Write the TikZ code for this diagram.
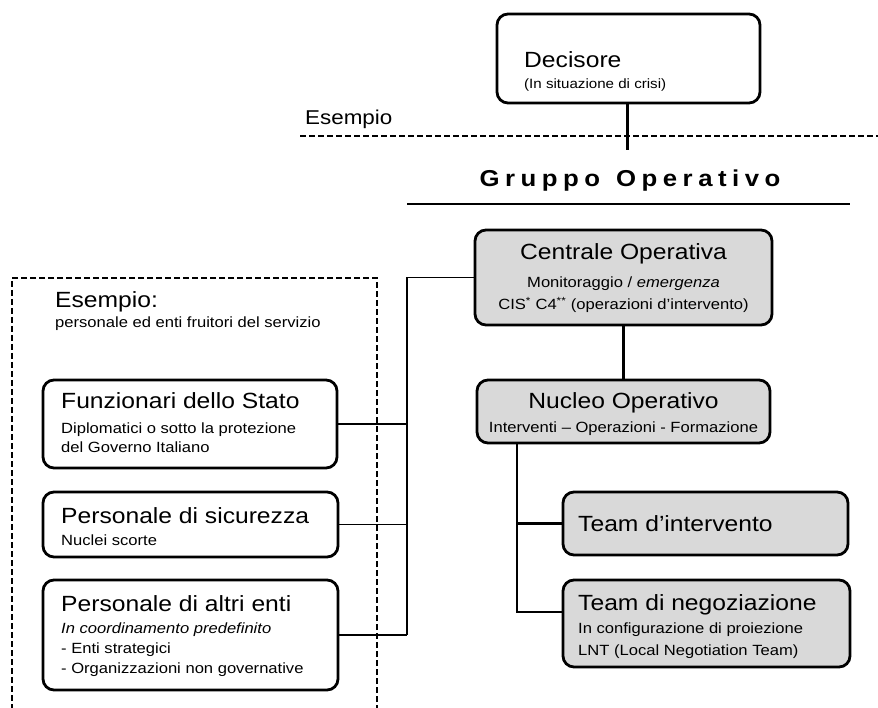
\documentclass[tikz,border=0pt]{standalone}
\usepackage{fontspec}
\setmainfont[FakeStretch=1.12]{Liberation Sans}
\newcommand\lsp{\kern 5.5pt}
\begin{document}
\begin{tikzpicture}[x=1pt,y=-1pt,
  obox/.style={draw, line width=2.8pt, rounded corners=11pt, inner sep=0pt},
  gbox/.style={obox, fill=black!15},
  ttl/.style={font=\fontsize{22}{25}\selectfont, anchor=base west, inner sep=0pt},
  sub/.style={font=\fontsize{14.8}{17}\selectfont, anchor=base west, inner sep=0pt},
  ttlc/.style={ttl, anchor=base},
  subc/.style={sub, anchor=base},
  thickc/.style={line width=2.8pt},
  thinc/.style={line width=1.1pt},
  dashc/.style={line width=1.1pt, dash pattern=on 6pt off 3pt}]

\clip (0,0) rectangle (878,708);
\fill[white] (0,0) rectangle (878,708);

% ---- top part
\node[obox, minimum width=263pt, minimum height=89pt] (dec) at (628.5,58.5) {};
\node[ttl] (decT) at (524,68) {Decisore};
\node[sub, font=\fontsize{13.5}{16}\selectfont] (decS) at (524,89) {(In situazione di crisi)};

\node[ttl, font=\fontsize{20}{23}\selectfont] (esT) at (305,125) {Esempio};
\draw[dashc] (300,136) -- (878,136);
\coordinate (decend) at (627.5,150);
\draw[thickc] (dec.south -| decend) -- (decend);

\node[font=\fontsize{23}{26}\selectfont\bfseries, inner sep=0pt] (grp) at (630,181)
  {G\lsp r\lsp u\lsp p\lsp p\lsp o\kern 16pt O\lsp p\lsp e\lsp r\lsp a\lsp t\lsp i\lsp v\lsp o};
\draw[line width=1.3pt] (407,204) -- (850,204);

% ---- operative boxes
\node[gbox, minimum width=297pt, minimum height=95pt] (cen) at (623.5,277.5) {};
\node[ttlc] (cenT) at (623.5,260) {Centrale Operativa};
\node[subc] (cenS1) at (623.5,288) {Monitoraggio / \textit{emergenza}};
\node[subc] (cenS2) at (623.5,310) {CIS\textsuperscript{*} C4\textsuperscript{**} (operazioni d'intervento)};

\node[gbox, minimum width=293pt, minimum height=63pt] (nuc) at (623.5,411.5) {};
\node[ttlc] (nucT) at (623.5,408) {Nucleo Operativo};
\node[subc] (nucS) at (623.5,432) {Interventi -- Operazioni - Formazione};

\node[gbox, minimum width=285pt, minimum height=63pt] (tint) at (705.5,523.5) {};
\node[ttl] (tintT) at (578,531) {Team d'intervento};

\node[gbox, minimum width=287pt, minimum height=87pt] (tneg) at (706.5,623.5) {};
\node[ttl] (tnegT) at (578,610) {Team di negoziazione};
\node[sub] (tnegS1) at (578,633) {In configurazione di proiezione};
\node[sub] (tnegS2) at (578,655) {LNT (Local Negotiation Team)};

\draw[thickc] (cen) -- (nuc);
\coordinate (trunk) at (517,612);
\draw[thickc] (nuc.south -| trunk) -- (trunk) -- (trunk -| tneg.west);
\draw[thickc] (tint.west -| trunk) -- (tint.west);

% ---- left example frame
\draw[dashc] (377,720) -- (377,278) -- (12,278) -- (12,720);
\node[ttl] (exT) at (55,308) {Esempio:};
\node[sub] (exS) at (55,328) {personale ed enti fruitori del servizio};

\node[obox, minimum width=294pt, minimum height=88pt] (funz) at (190,424) {};
\node[ttl] (funzT) at (61,408) {Funzionari dello Stato};
\node[sub] (funzS1) at (61,433) {Diplomatici o sotto la protezione};
\node[sub] (funzS2) at (61,452) {del Governo Italiano};

\node[obox, minimum width=295pt, minimum height=65pt] (sic) at (190.5,524.5) {};
\node[ttl] (sicT) at (61,523) {Personale di sicurezza};
\node[sub] (sicS) at (61,545) {Nuclei scorte};

\node[obox, minimum width=295pt, minimum height=110pt] (alt) at (190.5,635) {};
\node[ttl] (altT) at (61,611) {Personale di altri enti};
\node[sub] (altS1) at (61,633) {\textit{In coordinamento predefinito}};
\node[sub] (altS2) at (61,653) {- Enti strategici};
\node[sub] (altS3) at (61,673) {- Organizzazioni non governative};

\coordinate (bus) at (407,635);
\draw[thinc] (cen.west) -| (bus);
\draw[thinc] (funz.east) -- (funz.east -| bus);
\draw[thinc] (sic.east) -- (sic.east -| bus);
\draw[thinc] (alt.east) -- (bus);
\end{tikzpicture}
\end{document}
